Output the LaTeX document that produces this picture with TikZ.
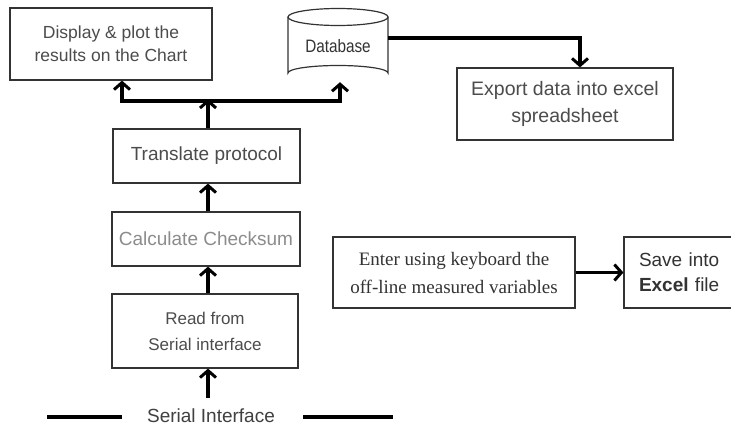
\documentclass[tikz,border=0pt]{standalone}
\usepackage{fontspec}
\setmainfont{Liberation Sans}
\newfontfamily\serifface{Liberation Serif}
\usetikzlibrary{arrows.meta}
\begin{document}
\begin{tikzpicture}[x=1pt,y=-1pt,
  box/.style={draw=black!80,line width=1.2pt,rectangle,inner sep=0pt,align=center,text=black!70},
  flow/.style={line width=3.6pt,-{Straight Barb[length=7pt,width=16pt,line width=3pt]}},
  plain/.style={line width=3.6pt}]
\useasboundingbox (0,0) rectangle (731,428);
\fill[white] (0,0) rectangle (731,428);

\node[box,minimum width=202pt,minimum height=72pt,font=\fontsize{17.5}{23}\selectfont] (disp) at (111,44) {Display \& plot the\\results on the Chart};

% database cylinder
\node[inner sep=0pt,minimum width=100pt,minimum height=72pt,font=\fontsize{18}{20}\selectfont,text=black!80] (db) at (338,46) {\scalebox{0.85}[1]{Database}};
\draw[draw=black!80,line width=1.2pt] (288,17) -- (288,73) arc[start angle=180,end angle=360,x radius=50,y radius=7.5] -- (388,17);
\draw[draw=black!80,line width=1.2pt] (338,17) ellipse[x radius=50,y radius=8.5];

\node[box,minimum width=216pt,minimum height=72pt,font=\fontsize{19.5}{27}\selectfont] (exp) at (565,104) {Export data into excel\\spreadsheet};

\node[box,minimum width=187pt,minimum height=54pt,font=\fontsize{19}{22}\selectfont] (trans) at (206.5,156) {Translate protocol};
\node[box,minimum width=188pt,minimum height=54pt,font=\fontsize{19}{22}\selectfont,text=black!45] (chk) at (206,239) {Calculate Checksum};
\node[box,minimum width=186pt,minimum height=74pt,font=\fontsize{17}{26}\selectfont] (read) at (205,331) {Read from\\Serial interface};

\node[box,minimum width=242pt,minimum height=71pt,font=\serifface\fontsize{19}{28}\selectfont,text=black!80] (enter) at (454,272.5) {Enter using keyboard the\\off-line measured variables};
\node[box,minimum height=71pt,text width=86pt,inner xsep=15pt,align=left,font=\fontsize{19}{25}\selectfont,text=black!80] (save) at (682,272.5) {Save into\\\textbf{Excel} file};

\node[font=\fontsize{19}{21}\selectfont,text=black!75,inner sep=0pt] (ser) at (211,416) {Serial Interface};
\coordinate (sl1) at (47,417); \coordinate (sl2) at (122,417);
\coordinate (sr1) at (303,417); \coordinate (sr2) at (393,417);
\draw[plain] (sl1) -- (sl2);
\draw[plain] (sr1) -- (sr2);

% connectors
\coordinate (jn) at (208,101);
\coordinate (sa) at (208,398);
\draw[flow] (sa) -- (read.south -| sa);
\draw[flow] (read.north -| sa) -- (chk.south -| sa);
\draw[flow] (chk.north -| sa) -- (trans.south -| sa);
\draw[flow] (trans.north -| sa) -- ([yshift=2pt]jn);
\coordinate (jl) at (122,101);
\coordinate (jr) at (340,101);
\draw[plain,line cap=rect] (jl) -- (jr);
\draw[flow] (jl) -- (disp.south -| jl);
\draw[flow] (jr) -- (db.south -| jr);
\coordinate (ec) at (580,38);
\draw[flow] (db.east |- ec) -- (ec) -- (exp.north -| ec);
\draw[flow] (enter.east) -- (save.west);
\end{tikzpicture}
\end{document}
